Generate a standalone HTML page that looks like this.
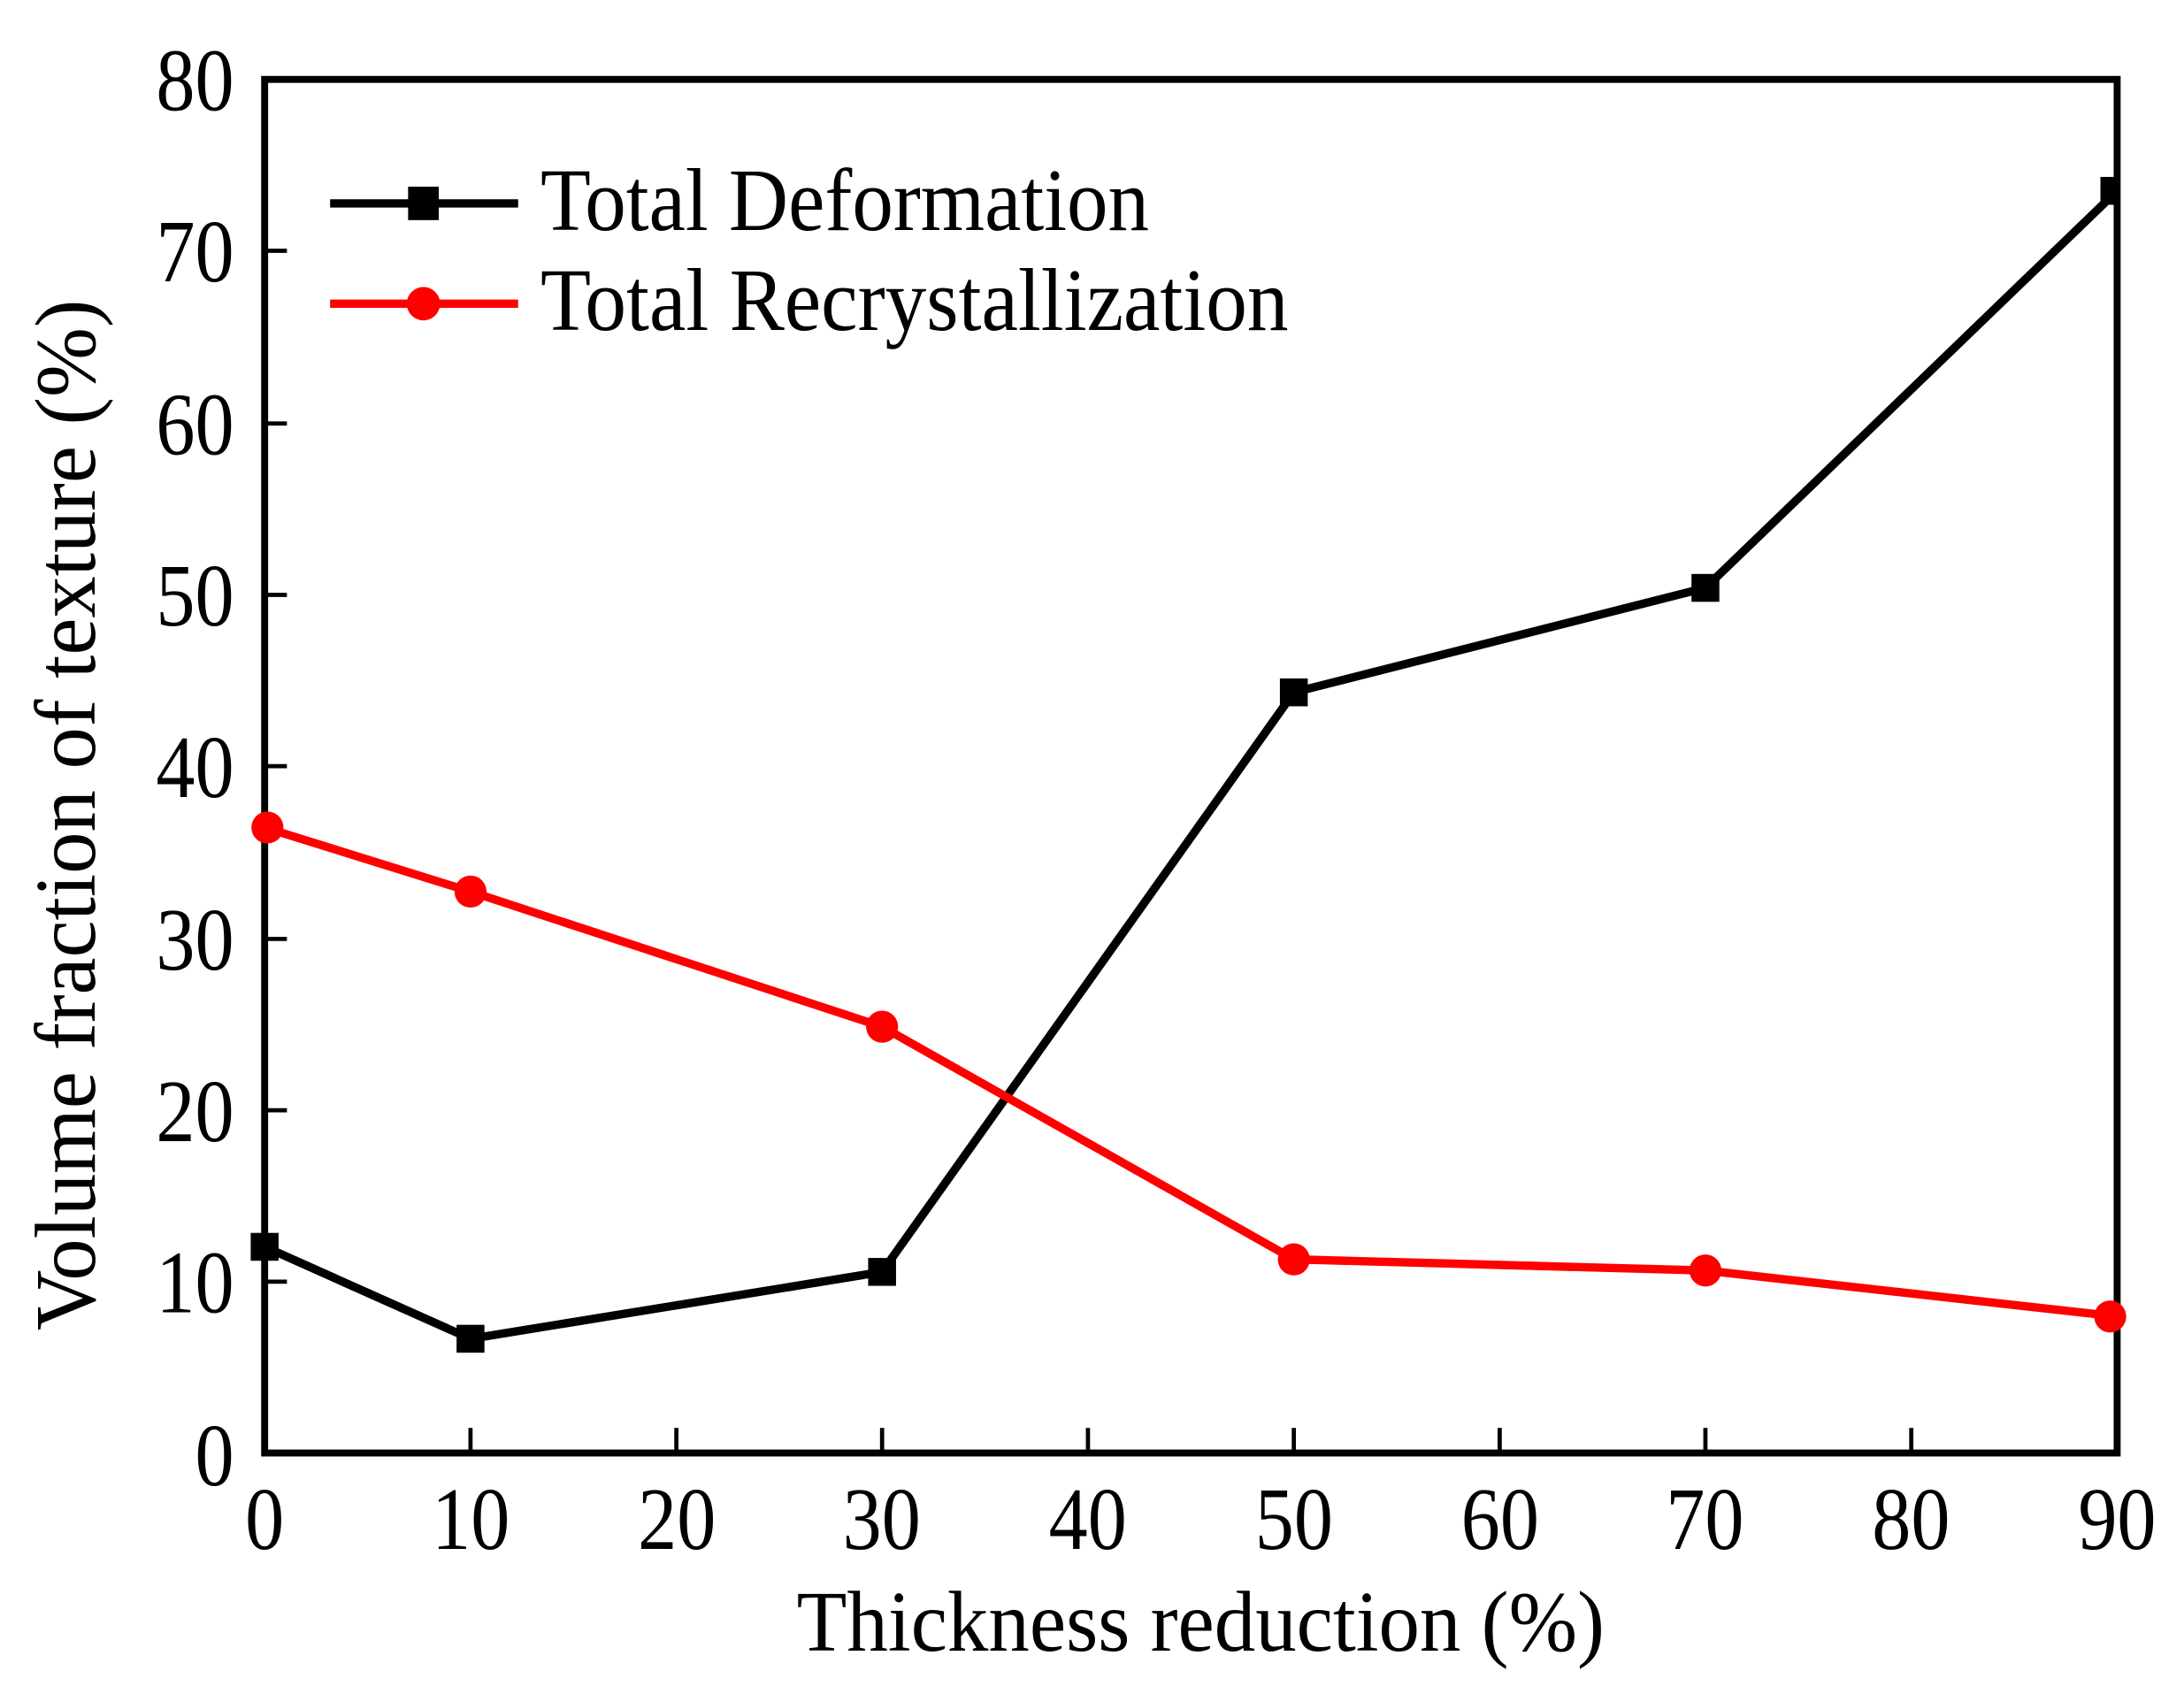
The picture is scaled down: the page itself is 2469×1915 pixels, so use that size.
<!DOCTYPE html>
<html><head><meta charset="utf-8"><style>
html,body{margin:0;padding:0;background:#fff;}
svg{display:block;}
text{font-family:"Liberation Serif",serif;fill:#000;}
</style></head><body>
<svg width="2469" height="1915" viewBox="0 0 1568 1216" preserveAspectRatio="none" xmlns="http://www.w3.org/2000/svg">
<rect width="1568" height="1216" fill="#fff"/>
<g stroke="#000" stroke-width="3">
<line x1="190" y1="920" x2="206" y2="920"/>
<line x1="190" y1="797" x2="206" y2="797"/>
<line x1="190" y1="674" x2="206" y2="674"/>
<line x1="190" y1="550" x2="206" y2="550"/>
<line x1="190" y1="427" x2="206" y2="427"/>
<line x1="190" y1="304" x2="206" y2="304"/>
<line x1="190" y1="180" x2="206" y2="180"/>
<line x1="337.8" y1="1043" x2="337.8" y2="1025"/>
<line x1="485.6" y1="1043" x2="485.6" y2="1025"/>
<line x1="633.3" y1="1043" x2="633.3" y2="1025"/>
<line x1="781.1" y1="1043" x2="781.1" y2="1025"/>
<line x1="928.9" y1="1043" x2="928.9" y2="1025"/>
<line x1="1076.7" y1="1043" x2="1076.7" y2="1025"/>
<line x1="1224.4" y1="1043" x2="1224.4" y2="1025"/>
<line x1="1372.2" y1="1043" x2="1372.2" y2="1025"/>
</g>
<rect x="190" y="57" width="1330" height="986" fill="none" stroke="#000" stroke-width="5"/>
<g font-size="64" lengthAdjust="spacingAndGlyphs">
<text x="140" y="1066" textLength="28" lengthAdjust="spacingAndGlyphs">0</text>
<text x="112" y="942" textLength="56" lengthAdjust="spacingAndGlyphs">10</text>
<text x="112" y="819" textLength="56" lengthAdjust="spacingAndGlyphs">20</text>
<text x="112" y="696" textLength="56" lengthAdjust="spacingAndGlyphs">30</text>
<text x="112" y="572" textLength="56" lengthAdjust="spacingAndGlyphs">40</text>
<text x="112" y="449" textLength="56" lengthAdjust="spacingAndGlyphs">50</text>
<text x="112" y="326" textLength="56" lengthAdjust="spacingAndGlyphs">60</text>
<text x="112" y="202" textLength="56" lengthAdjust="spacingAndGlyphs">70</text>
<text x="112" y="79" textLength="56" lengthAdjust="spacingAndGlyphs">80</text>
</g>
<g font-size="64">
<text x="176" y="1112" textLength="28" lengthAdjust="spacingAndGlyphs">0</text>
<text x="310" y="1112" textLength="56" lengthAdjust="spacingAndGlyphs">10</text>
<text x="458" y="1112" textLength="56" lengthAdjust="spacingAndGlyphs">20</text>
<text x="605" y="1112" textLength="56" lengthAdjust="spacingAndGlyphs">30</text>
<text x="753" y="1112" textLength="56" lengthAdjust="spacingAndGlyphs">40</text>
<text x="901" y="1112" textLength="56" lengthAdjust="spacingAndGlyphs">50</text>
<text x="1049" y="1112" textLength="56" lengthAdjust="spacingAndGlyphs">60</text>
<text x="1196" y="1112" textLength="56" lengthAdjust="spacingAndGlyphs">70</text>
<text x="1344" y="1112" textLength="56" lengthAdjust="spacingAndGlyphs">80</text>
<text x="1492" y="1112" textLength="56" lengthAdjust="spacingAndGlyphs">90</text>
</g>
<text x="572" y="1185" font-size="62" textLength="580" lengthAdjust="spacingAndGlyphs">Thickness reduction (%)</text>
<text transform="translate(68,585) rotate(-90)" font-size="62" text-anchor="middle" textLength="740" lengthAdjust="spacingAndGlyphs">Volume fraction of texture (%)</text>
<!-- black series -->
<polyline fill="none" stroke="#000" stroke-width="6" stroke-linejoin="round" points="190,895 337.8,961 633.3,913 928.9,497 1224.4,422 1520,137"/>
<g fill="#000">
<rect x="180" y="885" width="20" height="20"/>
<rect x="327.8" y="951" width="20" height="20"/>
<rect x="623.3" y="903" width="20" height="20"/>
<rect x="918.9" y="487" width="20" height="20"/>
<rect x="1214.4" y="412" width="20" height="20"/>
<rect x="1508" y="127" width="14" height="20"/>
</g>
<!-- red series -->
<polyline fill="none" stroke="#f00" stroke-width="6" stroke-linejoin="round" points="190,594 337.8,640 633.3,737 928.9,904 1224.4,912 1520,945"/>
<g fill="#f00">
<circle cx="192" cy="594" r="11.5"/>
<circle cx="337.8" cy="640" r="11.5"/>
<circle cx="633.3" cy="737" r="11.5"/>
<circle cx="928.9" cy="904" r="11.5"/>
<circle cx="1224.4" cy="912" r="11.5"/>
<circle cx="1515" cy="945" r="11.5"/>
</g>
<!-- legend -->
<line x1="237" y1="146" x2="372" y2="146" stroke="#000" stroke-width="6"/>
<rect x="293" y="134" width="22" height="24" fill="#000"/>
<text x="388" y="165" font-size="64" textLength="437" lengthAdjust="spacingAndGlyphs">Total Deformation</text>
<line x1="237" y1="218" x2="372" y2="218" stroke="#f00" stroke-width="6"/>
<circle cx="304" cy="218" r="12" fill="#f00"/>
<text x="388" y="237" font-size="64" textLength="537" lengthAdjust="spacingAndGlyphs">Total Recrystallization</text>
</svg>
</body></html>
